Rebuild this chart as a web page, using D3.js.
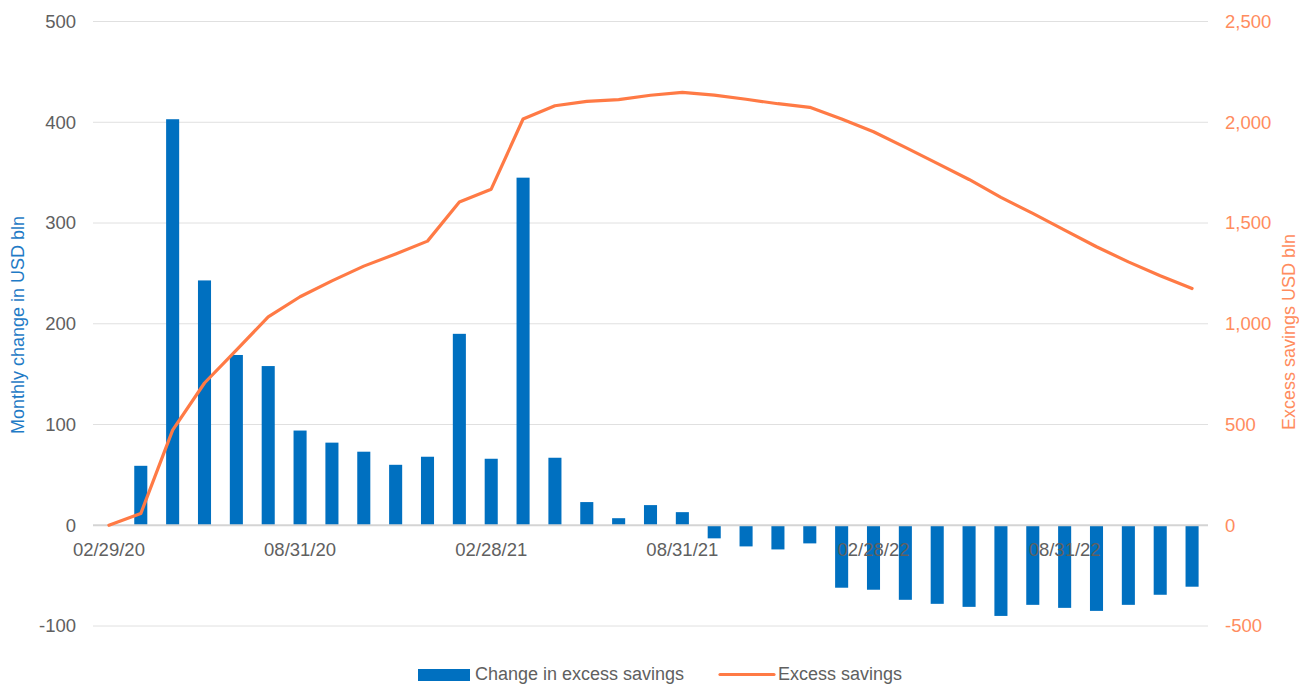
<!DOCTYPE html>
<html>
<head>
<meta charset="utf-8">
<script src="https://cdn.jsdelivr.net/npm/d3@7"></script>
<style>
  html, body { margin: 0; padding: 0; background: #fff; }
  svg text { font-family: "Liberation Sans", Arial, Helvetica, sans-serif; }
</style>
</head>
<body>
<svg id="chart" width="1299" height="684"></svg>
<script>
const categories = ["02/29/20","03/31/20","04/30/20","05/31/20","06/30/20","07/31/20","08/31/20","09/30/20","10/31/20","11/30/20","12/31/20",
  "01/31/21","02/28/21","03/31/21","04/30/21","05/31/21","06/30/21","07/31/21","08/31/21","09/30/21","10/31/21","11/30/21","12/31/21",
  "01/31/22","02/28/22","03/31/22","04/30/22","05/31/22","06/30/22","07/31/22","08/31/22","09/30/22","10/31/22","11/30/22","12/31/22"];
const changeInExcessSavings = [null, 59, 403, 243, 169, 158, 94, 82, 73, 60, 68, 190, 66, 345, 67, 23, 7, 20, 13, -13, -21, -24, -18,
  -62, -64, -74, -78, -81, -90, -79, -82, -85, -79, -69, -61];
const excessSavings = [0, 58, 472, 706, 869, 1034, 1134, 1213, 1286, 1346, 1410, 1604, 1668, 2016, 2082, 2104, 2112, 2134, 2148, 2135, 2114, 2092, 2074,
  2016, 1953, 1875, 1796, 1716, 1627, 1548, 1465, 1382, 1307, 1238, 1175];
const xTickLabels = ["02/29/20","08/31/20","02/28/21","08/31/21","02/28/22","08/31/22"];
const leftTicks = [-100, 0, 100, 200, 300, 400, 500];
const rightTicks = [-500, 0, 500, 1000, 1500, 2000, 2500];
const seriesNames = ["Change in excess savings", "Excess savings"];
const axisTitles = ["Monthly change in USD bln", "Excess savings USD bln"];

(function () {
const BLUE = "#0070C0", ORANGE = "#FF7A45", ORANGE_TXT = "#FF8C5E", GRAY = "#606060";
const svg = d3.select("#chart");
const pLeft = 93, pRight = 1208, pTop = 21.5, pBottom = 626;
const fmt = d3.formatLocale({decimal: ".", thousands: ",", grouping: [3], currency: ["$", ""], minus: "-"}).format(",");

const x = d3.scaleBand().domain(categories).range([pLeft, pRight]).paddingInner(0.59).paddingOuter(0.295);
const yL = d3.scaleLinear().domain([-100, 500]).range([pBottom, pTop]);
const yR = d3.scaleLinear().domain([-500, 2500]).range([pBottom, pTop]);
const cx = d => x(d) + x.bandwidth() / 2;

// gridlines
svg.append("g").selectAll("line").data(leftTicks.filter(t => t !== 0)).join("line")
  .attr("x1", pLeft).attr("x2", pRight)
  .attr("y1", d => yL(d)).attr("y2", d => yL(d))
  .attr("stroke", "#e0e0e0").attr("stroke-width", 1);

// bars
svg.append("g").selectAll("rect").data(categories.map((c, i) => ({c, v: changeInExcessSavings[i]})).filter(d => d.v !== null))
  .join("rect")
  .attr("x", d => x(d.c))
  .attr("width", x.bandwidth())
  .attr("y", d => Math.min(yL(d.v), yL(0)))
  .attr("height", d => Math.abs(yL(d.v) - yL(0)))
  .attr("fill", BLUE);

// zero line
svg.append("line").attr("x1", pLeft).attr("x2", pRight).attr("y1", yL(0)).attr("y2", yL(0))
  .attr("stroke", "#d4d4d4").attr("stroke-width", 2);

// line
const line = d3.line().x((d, i) => cx(categories[i])).y(d => yR(d));
svg.append("path").datum(excessSavings).attr("d", line)
  .attr("fill", "none").attr("stroke", ORANGE).attr("stroke-width", 3.2)
  .attr("stroke-linejoin", "round").attr("stroke-linecap", "round");

// left axis labels
svg.append("g").selectAll("text").data(leftTicks).join("text")
  .attr("x", 76).attr("y", d => yL(d)).attr("dy", "0.35em")
  .attr("text-anchor", "end").attr("fill", GRAY).attr("font-size", 18.5)
  .text(d => fmt(d));

// right axis labels
svg.append("g").selectAll("text").data(rightTicks).join("text")
  .attr("x", 1225).attr("y", d => yR(d)).attr("dy", "0.35em")
  .attr("text-anchor", "start").attr("fill", ORANGE_TXT).attr("font-size", 18.5)
  .text(d => fmt(d));

// x labels
svg.append("g").selectAll("text").data(xTickLabels).join("text")
  .attr("x", d => cx(d)).attr("y", 556)
  .attr("text-anchor", "middle").attr("fill", GRAY).attr("font-size", 18.5)
  .text(d => d);

// axis titles
svg.append("text").attr("transform", "translate(24,325) rotate(-90)")
  .attr("text-anchor", "middle").attr("fill", "#1F7BC6").attr("font-size", 18)
  .text(axisTitles[0]);
svg.append("text").attr("transform", "translate(1295,332) rotate(-90)")
  .attr("text-anchor", "middle").attr("fill", ORANGE_TXT).attr("font-size", 18)
  .text(axisTitles[1]);

// legend
const lg = svg.append("g");
lg.append("rect").attr("x", 418).attr("y", 669).attr("width", 52).attr("height", 12).attr("fill", BLUE);
lg.append("text").attr("x", 475).attr("y", 680).attr("fill", GRAY).attr("font-size", 18).text(seriesNames[0]);
lg.append("line").attr("x1", 720).attr("x2", 774).attr("y1", 674.5).attr("y2", 674.5)
  .attr("stroke", ORANGE).attr("stroke-width", 3.2).attr("stroke-linecap", "round");
lg.append("text").attr("x", 778).attr("y", 680).attr("fill", GRAY).attr("font-size", 18).text(seriesNames[1]);
})();
</script>
</body>
</html>
